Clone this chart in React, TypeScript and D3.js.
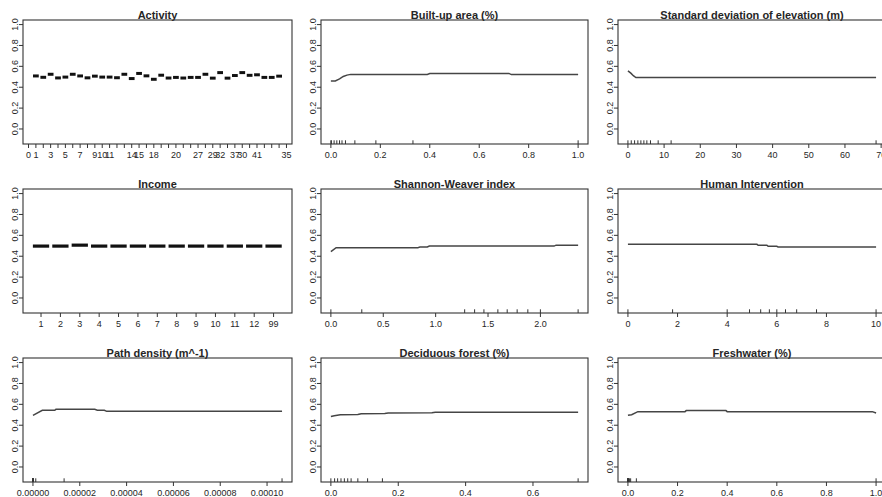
import React from 'react';
import * as d3 from 'd3';

const W = 882;
const H = 497;
const colLeft = [23, 321, 618];
const colRight = [292, 588, 886];
const rowTop = [20, 189, 358];
const boxH = 124;

const yTicks = [0, 0.2, 0.4, 0.6, 0.8, 1.0];

// ---- Activity (factor) ----
const activityLevels = ["0","1","2","3","4","5","6","7","8","9","10","11","12","13","14","15","16","18","19","2","20","21","25","27","28","29","32","33","37","30","40","41","34","36","38","35"];
const activityShownLabels = ["0","1","3","5","7","9","10","11","14","15","18","20","27","29","32","37","30","41","35"];
const activityValues: (number | null)[] = [null, 0.508, 0.495, 0.524, 0.489, 0.497, 0.524, 0.508, 0.490, 0.506, 0.497, 0.497, 0.491, 0.524, 0.483, 0.532, 0.509, 0.476, 0.515, 0.488, 0.494, 0.488, 0.494, 0.494, 0.524, 0.487, 0.540, 0.487, 0.512, 0.540, 0.514, 0.519, 0.494, 0.494, 0.506, null];

// ---- Income (factor) ----
const incomeLevels = ["1","2","3","4","5","6","7","8","9","10","11","12","99"];
const incomeValues = [0.497, 0.497, 0.506, 0.497, 0.497, 0.497, 0.497, 0.497, 0.497, 0.497, 0.497, 0.497, 0.497];

// ---- Continuous predictors ----
const builtUpX = [0, 0.018, 0.035, 0.05, 0.065, 0.08, 0.39, 0.40, 0.72, 0.73, 1.0];
const builtUpY = [0.46, 0.46, 0.48, 0.503, 0.516, 0.523, 0.523, 0.532, 0.532, 0.521, 0.521];
const builtUpRug = [0, 0.002, 0.013, 0.024, 0.035, 0.045, 0.059, 0.097, 0.182, 0.332, 1.0];
const builtUpTicks = [0, 0.2, 0.4, 0.6, 0.8, 1.0];

const elevX = [0, 0.8, 1.5, 2.2, 68.6];
const elevY = [0.556, 0.535, 0.51, 0.493, 0.493];
const elevRug = [0, 0.92, 1.84, 2.75, 3.58, 4.41, 5.23, 6.24, 8.36, 11.94, 68.6];
const elevTicks = [0, 10, 20, 30, 40, 50, 60, 70];

const shannonX = [0, 0.05, 0.83, 0.85, 0.92, 0.94, 2.13, 2.15, 2.36];
const shannonY = [0.444, 0.482, 0.482, 0.488, 0.488, 0.497, 0.497, 0.506, 0.506];
const shannonRug = [0, 0.295, 1.277, 1.372, 1.461, 1.594, 1.683, 1.778, 1.88, 2.0, 2.36];
const shannonTicks = [0, 0.5, 1.0, 1.5, 2.0];

const humanX = [0, 5.2, 5.25, 5.6, 5.65, 6.0, 6.05, 10];
const humanY = [0.514, 0.514, 0.505, 0.505, 0.495, 0.495, 0.489, 0.489];
const humanRug = [0, 1.8, 4.0, 4.9, 5.35, 5.7, 6.0, 6.35, 6.8, 7.6, 10];
const humanTicks = [0, 2, 4, 6, 8, 10];

const pathX = [0, 0.000004, 0.0000093, 0.0000098, 0.0000264, 0.0000275, 0.0000305, 0.0000315, 0.0001064];
const pathY = [0.495, 0.543, 0.543, 0.552, 0.552, 0.543, 0.543, 0.533, 0.533];
const pathRug = [0, 0, 0, 0, 0, 0, 0, 0, 0.0000012, 0.0000133, 0.0001064];
const pathTicks = [0, 0.00002, 0.00004, 0.00006, 0.00008, 0.0001];

const decidX = [0, 0.01, 0.028, 0.08, 0.09, 0.16, 0.17, 0.30, 0.31, 0.734];
const decidY = [0.483, 0.49, 0.5, 0.503, 0.51, 0.512, 0.517, 0.519, 0.524, 0.525];
const decidRug = [0, 0.011, 0.02, 0.03, 0.04, 0.05, 0.06, 0.08, 0.109, 0.153, 0.734];
const decidTicks = [0, 0.2, 0.4, 0.6];

const freshX = [0, 0.015, 0.04, 0.23, 0.235, 0.395, 0.4, 0.985, 1.0];
const freshY = [0.495, 0.5, 0.53, 0.53, 0.54, 0.54, 0.53, 0.53, 0.517];
const freshRug = [0, 0, 0, 0, 0, 0, 0.002, 0.006, 0.011, 0.034, 1.0];
const freshTicks = [0, 0.2, 0.4, 0.6, 0.8, 1.0];

const FONT = "'Liberation Sans', Arial, Helvetica, sans-serif";
const TXT = '#262626';
const AX = '#333';

type Frame = { col: number; row: number; title: string };

function Frame({ col, row, title, children }: Frame & { children?: React.ReactNode }) {
  const x0 = colLeft[col];
  const x1 = colRight[col];
  const y0 = rowTop[row];
  const y1 = y0 + boxH;
  const y = d3.scaleLinear().domain([-0.1 - 0.044, 1.0 + 0.044]).range([y1, y0]);
  return (
    <g>
      <text x={(x0 + x1) / 2} y={y0 - 1.5} textAnchor="middle" fontFamily={FONT} fontWeight="bold" fontSize={11} fill={TXT}>
        {title}
      </text>
      {yTicks.map((t) => (
        <g key={t}>
          <line x1={x0} x2={x0 - 4} y1={y(t)} y2={y(t)} stroke={AX} strokeWidth={1} />
          <text transform={`translate(${x0 - 5},${y(t)}) rotate(-90)`} textAnchor="middle" fontFamily={FONT} fontSize={9} fill={TXT}>
            {t.toFixed(1)}
          </text>
        </g>
      ))}
      {children}
      <rect x={x0} y={y0} width={x1 - x0} height={boxH} fill="none" stroke={AX} strokeWidth={1.1} />
    </g>
  );
}

function yScale(row: number) {
  const y0 = rowTop[row];
  return d3.scaleLinear().domain([-0.1 - 0.044, 1.0 + 0.044]).range([y0 + boxH, y0]);
}

function LinePanel({ col, row, title, xs, ys, rug, ticks, digits }: any) {
  const lo = d3.min(rug as number[])!;
  const hi = d3.max(rug as number[])!;
  const r = hi - lo;
  const x = d3.scaleLinear().domain([lo - 0.04 * r, hi + 0.04 * r]).range([colLeft[col], colRight[col]]);
  const y = yScale(row);
  const bottom = rowTop[row] + boxH;
  const pts: [number, number][] = xs.map((v: number, i: number) => [v, ys[i]]);
  const line = d3.line<[number, number]>().x((d) => x(d[0])).y((d) => y(d[1]));
  return (
    <Frame col={col} row={row} title={title}>
      <path d={line(pts) || ''} fill="none" stroke="#454545" strokeWidth={1.5} />
      {(rug as number[]).map((v, i) => (
        <line key={'r' + i} x1={x(v)} x2={x(v)} y1={bottom} y2={bottom - 3.7} stroke={AX} strokeWidth={1} />
      ))}
      {(ticks as number[]).map((t) => (
        <g key={'t' + t}>
          <line x1={x(t)} x2={x(t)} y1={bottom} y2={bottom + 4} stroke={AX} strokeWidth={1} />
          <text x={x(t)} y={bottom + 13.5} textAnchor="middle" fontFamily={FONT} fontSize={9} fill={TXT}>
            {t.toFixed(digits)}
          </text>
        </g>
      ))}
    </Frame>
  );
}

function FactorPanel({ col, row, title, levels, values, shown, domain, barFrac, barThick }: any) {
  const x = d3.scaleLinear().domain(domain).range([colLeft[col], colRight[col]]);
  const y = yScale(row);
  const bottom = rowTop[row] + boxH;
  const step = x(1) - x(0);
  const half = (step * barFrac) / 2;
  const pos = (i: number) => (levels.length === activityLevels.length ? i : i + 1);
  return (
    <Frame col={col} row={row} title={title}>
      {(values as (number | null)[]).map((v, i) =>
        v == null ? null : (
          <line key={'b' + i} x1={x(pos(i)) - half} x2={x(pos(i)) + half} y1={y(v)} y2={y(v)} stroke="#111" strokeWidth={barThick} />
        )
      )}
      {(levels as string[]).map((lab, i) => (
        <g key={'t' + i}>
          <line x1={x(pos(i))} x2={x(pos(i))} y1={bottom} y2={bottom + 4} stroke={AX} strokeWidth={1} />
          {shown.includes(lab) ? (
            <text x={x(pos(i))} y={bottom + 13.5} textAnchor="middle" fontFamily={FONT} fontSize={9} fill={TXT}>
              {lab}
            </text>
          ) : null}
        </g>
      ))}
    </Frame>
  );
}

export default function App() {
  return (
    <svg width={W} height={H} viewBox={`0 0 ${W} ${H}`} style={{ position: 'absolute', left: 0, top: 0, background: '#fff' }}>
      <rect x={0} y={0} width={W} height={H} fill="#fff" />
      <FactorPanel col={0} row={0} title="Activity" levels={activityLevels} values={activityValues} shown={activityShownLabels} domain={[-0.75, 35.75]} barFrac={0.78} barThick={3} />
      <LinePanel col={1} row={0} title="Built-up area (%)" xs={builtUpX} ys={builtUpY} rug={builtUpRug} ticks={builtUpTicks} digits={1} />
      <LinePanel col={2} row={0} title="Standard deviation of elevation (m)" xs={elevX} ys={elevY} rug={elevRug} ticks={elevTicks} digits={0} />
      <FactorPanel col={0} row={1} title="Income" levels={incomeLevels} values={incomeValues} shown={incomeLevels} domain={[0.07, 13.95]} barFrac={0.84} barThick={3.2} />
      <LinePanel col={1} row={1} title="Shannon-Weaver index" xs={shannonX} ys={shannonY} rug={shannonRug} ticks={shannonTicks} digits={1} />
      <LinePanel col={2} row={1} title="Human Intervention" xs={humanX} ys={humanY} rug={humanRug} ticks={humanTicks} digits={0} />
      <LinePanel col={0} row={2} title="Path density (m^-1)" xs={pathX} ys={pathY} rug={pathRug} ticks={pathTicks} digits={5} />
      <LinePanel col={1} row={2} title="Deciduous forest (%)" xs={decidX} ys={decidY} rug={decidRug} ticks={decidTicks} digits={1} />
      <LinePanel col={2} row={2} title="Freshwater (%)" xs={freshX} ys={freshY} rug={freshRug} ticks={freshTicks} digits={1} />
    </svg>
  );
}
